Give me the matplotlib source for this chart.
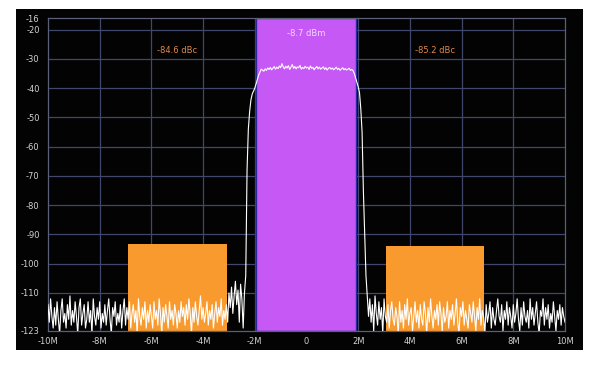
import numpy as np
import matplotlib
matplotlib.use("Agg")
import matplotlib.pyplot as plt
from matplotlib.patches import Rectangle

# ---------------- data ----------------
freq_start, freq_stop, freq_step = -10.0, 10.0, 0.05   # MHz

left_noise = [
    -114, -120, -112, -118, -122, -115, -121, -113, -119, -124, -116, -112, -120, -117, -122, -114, -119, -111, -121, -116,
    -120, -113, -118, -124, -115, -112, -121, -117, -114, -122, -119, -113, -120, -116, -124, -112, -118, -121, -115, -119,
    -113, -122, -117, -120, -114, -121, -116, -112, -119, -124, -115, -118, -113, -121, -117, -120, -114, -122, -116, -112,
    -121, -115, -119, -113, -122, -117, -114, -120, -116, -124, -112, -118, -121, -115, -119, -113, -122, -116, -120, -114,
    -118, -122, -113, -119, -116, -121, -112, -117, -124, -115, -120, -114, -118, -122, -113, -119, -116, -121, -114, -117,
    -122, -116, -120, -113, -118, -115, -121, -114, -119, -112, -117, -124, -115, -120, -113, -118, -121, -116, -111, -119,
    -115, -120, -117, -113, -121, -116, -119, -114, -122, -117, -113, -120, -115, -118, -112, -121, -116, -119, -114, -120,
    -110, -115, -108, -117, -111, -106, -114, -109, -120, -107, -112, -122,
]
left_edge = [-110, -104, -68, -54, -48, -44, -42, -41, -40, -38.5, -37, -35.5, -34.5, -33.5]
inband = [
    -33.8, -34.2, -33.4, -33.9, -33.1, -33.6, -32.9, -33.7, -33.2, -32.6,
    -33.5, -32.8, -33.3, -32.4, -33.0, -31.6, -32.7, -33.4, -32.5, -33.1,
    -32.3, -33.6, -32.8, -31.9, -33.2, -32.6, -33.4, -32.7, -33.0, -32.2,
    -33.5, -32.9, -33.3, -32.5, -33.1, -32.8, -33.6, -32.4, -33.2, -32.9,
    -33.7, -33.0, -32.6, -33.4, -32.8, -33.5, -33.1, -32.7, -33.6, -33.0,
    -33.8, -33.2, -32.9, -33.5, -33.1, -33.7, -33.3, -32.8, -33.6, -33.2,
    -33.9, -33.4, -33.0, -33.7, -33.3, -33.8, -33.5, -33.2, -33.9, -33.6,
]
right_edge = [-34.0, -35.0, -36.5, -38.0, -39.5, -41.5, -47, -55, -75, -90, -104, -111]
right_noise = [
    -118, -112, -120, -114, -123, -111, -117, -121, -113, -119, -115, -124, -112, -118, -120, -114, -122, -116, -113, -119,
    -121, -115, -118, -124, -113, -120, -116, -122, -114, -119, -112, -121, -117, -115, -123, -118, -113, -120, -116, -122,
    -114, -119, -121, -113, -117, -124, -115, -120, -112, -118, -122, -116, -119, -114, -121, -113, -117, -123, -115, -120,
    -118, -113, -122, -116, -119, -114, -121, -117, -112, -120, -124, -115, -118, -113, -121, -116, -119, -122, -114, -117,
    -120, -113, -118, -123, -115, -119, -112, -121, -116, -118, -124, -114, -120, -117, -113, -122, -115, -119, -121, -116,
    -112, -118, -120, -114, -123, -116, -119, -113, -121, -115, -118, -122, -114, -120, -117, -112, -119, -123, -115, -121,
    -113, -118, -120, -116, -122, -112, -119, -115, -121, -117, -113, -120, -124, -116, -118, -112, -121, -115, -119, -114,
    -122, -117, -120, -113, -118, -123, -116, -119, -114, -121, -115, -118, -120,
]

ytick_values = [-16, -20, -30, -40, -50, -60, -70, -80, -90, -100, -110, -123]
xtick_values = [-10, -8, -6, -4, -2, 0, 2, 4, 6, 8, 10]
xtick_labels = ["-10M", "-8M", "-6M", "-4M", "-2M", "0", "2M", "4M", "6M", "8M", "10M"]

main_band = (-1.95, 1.9)          # MHz
main_label = "-8.7 dBm"
adj_bands = [(-6.92, -3.09, -93.4), (3.08, 6.88, -94.0)]  # start, stop, top level
adj_labels = ["-84.6 dBc", "-85.2 dBc"]

# ---------------- plot ----------------
level = np.array(left_noise + left_edge + inband + right_edge + right_noise, dtype=float)
freq = np.linspace(freq_start, freq_stop, len(level))

fig = plt.figure(figsize=(6.0, 3.65), dpi=100, facecolor="white")
bg = Rectangle((16 / 600, 1 - 350 / 365), 567 / 600, 341 / 365,
               transform=fig.transFigure, facecolor="#030303",
               edgecolor="none", zorder=-10)
fig.patches.append(bg)
ax = fig.add_axes([48 / 600, 1 - 331 / 365, 517 / 600, 313 / 365])
ax.set_zorder(5)
ax.set_facecolor("#030303")
ymin, ymax = -123, -16
ax.set_xlim(freq_start, freq_stop)
ax.set_ylim(ymin, ymax)

grid_color = "#40476a"
for y in ytick_values[1:-1]:
    ax.axhline(y, color=grid_color, lw=0.9, zorder=1)
for x in xtick_values[1:-1]:
    ax.axvline(x, color=grid_color, lw=0.9, zorder=1)

ax.add_patch(Rectangle((main_band[0], ymin), main_band[1] - main_band[0], ymax - ymin,
                       facecolor="#c659f5", edgecolor="#2a2a9a", lw=1.0, zorder=2))
for (x0, x1, top) in adj_bands:
    ax.add_patch(Rectangle((x0, ymin), x1 - x0, top - ymin,
                           facecolor="#f99a2e", edgecolor="none", zorder=2))

ax.plot(freq, level, color="white", lw=0.8, zorder=3, clip_on=True)

ax.text(np.mean(main_band), -21.4, main_label, color="#f2d8ff", fontsize=6,
        ha="center", va="center", zorder=4)
for (x0, x1, top), lab in zip(adj_bands, adj_labels):
    ax.text((x0 + x1) / 2, -27.2, lab, color="#e0894a", fontsize=6,
            ha="center", va="center", zorder=4)

ax.set_yticks(ytick_values)
ax.set_yticklabels([str(v) for v in ytick_values])
ax.set_xticks(xtick_values)
ax.set_xticklabels(xtick_labels)
ax.tick_params(axis="both", length=0, labelsize=6, colors="#d2d2d2")
ax.tick_params(axis="y", pad=6)
ax.tick_params(axis="x", pad=4)
for s in ax.spines.values():
    s.set_color("#5a5f7a")
    s.set_linewidth(0.9)

fig.savefig("out.png", dpi=100, facecolor="white")
